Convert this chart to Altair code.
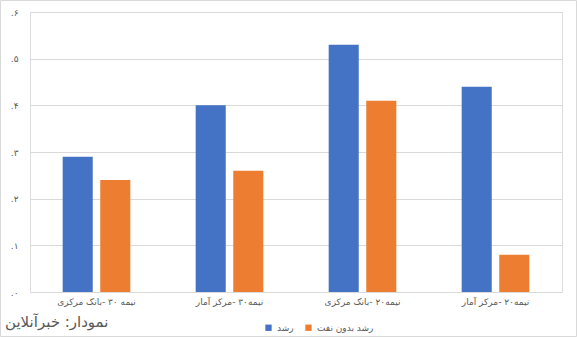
import altair as alt
import pandas as pd

categories = [
    "نیمه ۳۰ -بانک مرکزی",
    "نیمه۳۰ -مرکز آمار",
    "نیمه۲۰ -بانک مرکزی",
    "نیمه۲۰ -مرکز آمار",
]
series_names = ["رشد", "رشد بدون نفت"]
growth = [0.29, 0.40, 0.53, 0.44]
growth_ex_oil = [0.24, 0.26, 0.41, 0.08]
y_tick_values = [0, 0.1, 0.2, 0.3, 0.4, 0.5, 0.6]
y_tick_labels = [".۰", ".۱", ".۲", ".۳", ".۴", ".۵", ".۶"]
colors = ["#4472C4", "#ED7D31"]
title_text = "نمودار: خبرآنلاین"

rows = []
for c, a, b in zip(categories, growth, growth_ex_oil):
    rows.append({"cat": c, "series": series_names[0], "value": a})
    rows.append({"cat": c, "series": series_names[1], "value": b})
df = pd.DataFrame(rows)

label_expr = "[" + ",".join("'" + s + "'" for s in y_tick_labels) + "][round(datum.value*10)]"

FONT = "DejaVu Sans"
GRAY = "#595959"

bars = alt.Chart(df).mark_bar().encode(
    x=alt.X("cat:N", sort=categories, title=None,
            scale=alt.Scale(paddingInner=0, paddingOuter=0),
            axis=alt.Axis(labelAngle=0, labelFontSize=9, labelColor=GRAY, labelFont=FONT,
                          domain=False, ticks=False, labelPadding=5, labelLimit=200)),
    xOffset=alt.XOffset("series:N", sort=series_names,
                        scale=alt.Scale(paddingInner=0.2, paddingOuter=0.87)),
    y=alt.Y("value:Q", title=None,
            scale=alt.Scale(domain=[0, 0.6], nice=False),
            axis=alt.Axis(values=y_tick_values, labelExpr=label_expr, labelFontSize=9,
                          labelColor=GRAY, labelFont=FONT, domain=False, ticks=False,
                          labelPadding=12, gridColor="#d9d9d9", gridWidth=1)),
    color=alt.Color("series:N", sort=series_names, title=None,
                    scale=alt.Scale(domain=series_names, range=colors),
                    legend=alt.Legend(orient="none", legendX=234, legendY=311, direction="horizontal",
                                      symbolType="square", symbolSize=40, symbolStrokeWidth=0,
                                      labelFontSize=9, labelColor=GRAY, labelFont=FONT,
                                      columnPadding=10, symbolOffset=0, labelOffset=4)),
)

title_df = pd.DataFrame({"t": [title_text]})
title = alt.Chart(title_df).mark_text(align="left", baseline="middle", fontSize=15,
                                      font=FONT, color=GRAY).encode(
    text="t:N", x=alt.value(-25), y=alt.value(310)
)

border = alt.Chart(title_df).mark_rect(fill=None, stroke="#d9d9d9", strokeWidth=1).encode(
    x=alt.value(-29.5), x2=alt.value(546.5), y=alt.value(-11.5), y2=alt.value(324.5)
)

chart = alt.layer(bars, title, border).properties(
    width=532, height=280,
    padding={"left": 30, "top": 12, "right": 15, "bottom": 45},
    autosize=alt.AutoSizeParams(type="none"),
).configure_view(stroke=None).configure(background="white")

chart.save("out.html", embed_options={"renderer": "svg", "actions": False})
